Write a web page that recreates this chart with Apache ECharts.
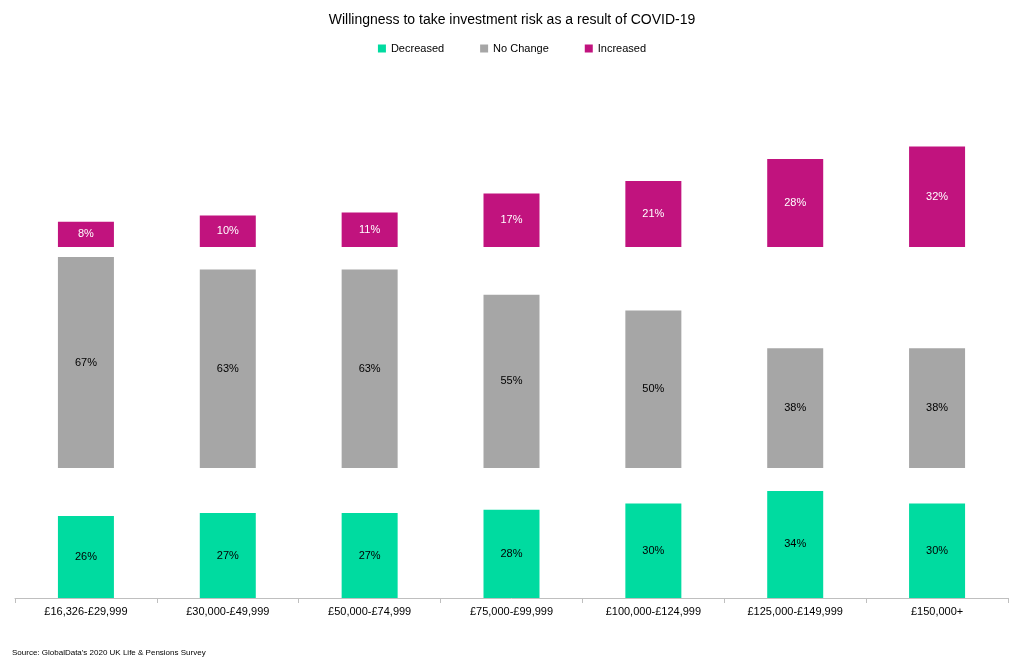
<!DOCTYPE html>
<html><head><meta charset="utf-8">
<script src="https://cdn.jsdelivr.net/npm/echarts@6/dist/echarts.min.js"></script>
<style>html,body{margin:0;background:#fff}#c{width:1024px;height:670px}</style>
</head><body><div id="c"></div>
<script>
const categories = ['£16,326-£29,999','£30,000-£49,999','£50,000-£74,999','£75,000-£99,999','£100,000-£124,999','£125,000-£149,999','£150,000+'];
const decreased = [26,27,27,28,30,34,30];
const noChange = [67,63,63,55,50,38,38];
const increased = [8,10,11,17,21,28,32];

const font = 'Liberation Sans, Arial, sans-serif';
const chart = echarts.init(document.getElementById('c'));
const L = 15, R = 16;
const grids = [
  {left:L,right:R,top:472,height:126},
  {left:L,right:R,top:247.5,height:220.5},
  {left:L,right:R,top:137,height:110}
];
const maxes = [40,70,35];
function xa(i){return {type:'category',gridIndex:i,data:categories,
  axisLine:{show:i===0,lineStyle:{color:'#bfbfbf'}},axisTick:{show:i===0,alignWithLabel:false,lineStyle:{color:'#bfbfbf'},length:5},
  axisLabel:{show:i===0,color:'#000',fontSize:11,fontFamily:font,margin:8}};}
function ya(i){return {type:'value',gridIndex:i,min:0,max:maxes[i],show:false,splitLine:{show:false}};}
function s(name,data,i,color,lc){return {name,type:'bar',data,xAxisIndex:i,yAxisIndex:i,barWidth:56,
  itemStyle:{color},label:{show:true,position:'inside',formatter:'{c}%',color:lc,fontSize:11,fontFamily:font}};}
chart.setOption({
  animation:false,
  title:{text:'Willingness to take investment risk as a result of COVID-19',left:'center',top:8,
    textStyle:{fontSize:14,fontWeight:'normal',color:'#000',fontFamily:font}},
  legend:{top:38,left:'center',itemWidth:8,itemHeight:8,itemGap:36,icon:'rect',
    textStyle:{fontSize:11,color:'#000',fontFamily:font},data:['Decreased','No Change','Increased']},
  graphic:[{type:'text',left:12,top:649,style:{text:"Source: GlobalData's 2020 UK Life & Pensions Survey",fontSize:8,fill:'#000',fontFamily:font}}],
  grid:grids,
  xAxis:[xa(0),xa(1),xa(2)],
  yAxis:[ya(0),ya(1),ya(2)],
  series:[
    s('Decreased',decreased,0,'#00DBA0','#000'),
    s('No Change',noChange,1,'#A6A6A6','#000'),
    s('Increased',increased,2,'#C1137E','#fff')
  ]
});
</script></body></html>
